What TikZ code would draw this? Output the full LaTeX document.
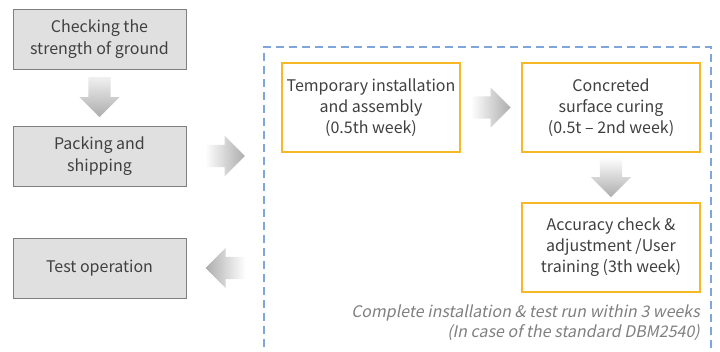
\documentclass[tikz,border=0pt]{standalone}
\usepackage{fontspec}
\setmainfont{Noto Sans CJK KR}
\newfontfamily\notefont[FakeSlant=0.2]{Noto Sans CJK KR}
\usetikzlibrary{shapes.arrows,calc}
\definecolor{boxgray}{HTML}{E0E0E0}
\definecolor{boxline}{HTML}{7F7F7F}
\definecolor{goldline}{HTML}{F7B825}
\definecolor{frameblue}{HTML}{7EA6DD}
\definecolor{txtgray}{HTML}{404040}
\definecolor{notegray}{HTML}{808080}
\tikzset{
	stepbox/.style={draw=boxline, fill=boxgray, line width=.9pt, minimum width=173pt, minimum height=60pt,
			align=center, text=txtgray, font=\fontsize{16}{22}\selectfont},
	workbox/.style={draw=goldline, fill=white, line width=1.2pt, minimum width=178pt, minimum height=89pt,
			align=center, text=txtgray, font=\fontsize{16}{21}\selectfont},
	blockarrow/.style={single arrow, draw=none, inner xsep=1pt, inner ysep=11pt, minimum height=40pt,
			single arrow head extend=9pt, shape border rotate=#1, anchor=tip},
	blockarrow/.default=0,
	downarrow/.style={blockarrow=270, inner xsep=11pt, inner ysep=1pt}
}

\begin{document}
\begin{tikzpicture}[x=1pt, y=-1pt]
	\clip (0, 0) rectangle (720, 351);
	\fill[white] (0, 0) rectangle (720, 351);

	\node[stepbox] (ground) at (99.5, 39) {Checking the\\strength of ground};
	\node[stepbox] (packing) at (99.5, 156) {Packing and\\shipping};
	\node[stepbox] (testop) at (99.5, 268) {Test operation};

	\coordinate (frameNW) at (264, 47);
	\coordinate (frameNE) at (711, 47);
	\draw[frameblue, line width=2.4pt, dash pattern=on 8pt off 5pt]
	(frameNW |- 0, 360) -- (frameNW) -- (frameNE) -- (frameNE |- 0, 360);

	\node[workbox] (assembly) at (371, 107.5) {Temporary installation\\and assembly\\(0.5th week)};
	\node[workbox] (curing) at (611, 107.5) {Concreted\\surface curing\\(0.5t – 2nd week)};
	\node[workbox] (accuracy) at (611, 247.5) {Accuracy check \&\\adjustment /User\\training (3th week)};

	\node[downarrow, yshift=-20pt, top color=gray!12, bottom color=gray!65] (a1)
	at ($(ground.south)!.5!(packing.north)$) {};
	\node[blockarrow, xshift=20pt, left color=white, right color=gray!65] (a2)
	at ($(packing.east)!.5!(packing.east -| frameNW)$) {};
	\node[blockarrow, xshift=20pt, left color=white, right color=gray!65] (a3)
	at ($(assembly.east)!.5!(curing.west)$) {};
	\node[downarrow, yshift=-20pt, top color=white, bottom color=gray!65] (a4)
	at ($(curing.south)!.5!(accuracy.north)$) {};
	\node[blockarrow=180, xshift=-20pt, left color=gray!65, right color=white] (a5)
	at ($(testop.east)!.5!(testop.east -| frameNW)$) {};

	\node[anchor=north east, align=right, text=notegray, inner sep=0pt,
		font=\notefont\fontsize{16}{20}\selectfont] (note)
	at (700, 305) {Complete installation \& test run within 3 weeks\\(In case of the standard DBM2540)};

\end{tikzpicture}
\end{document}
